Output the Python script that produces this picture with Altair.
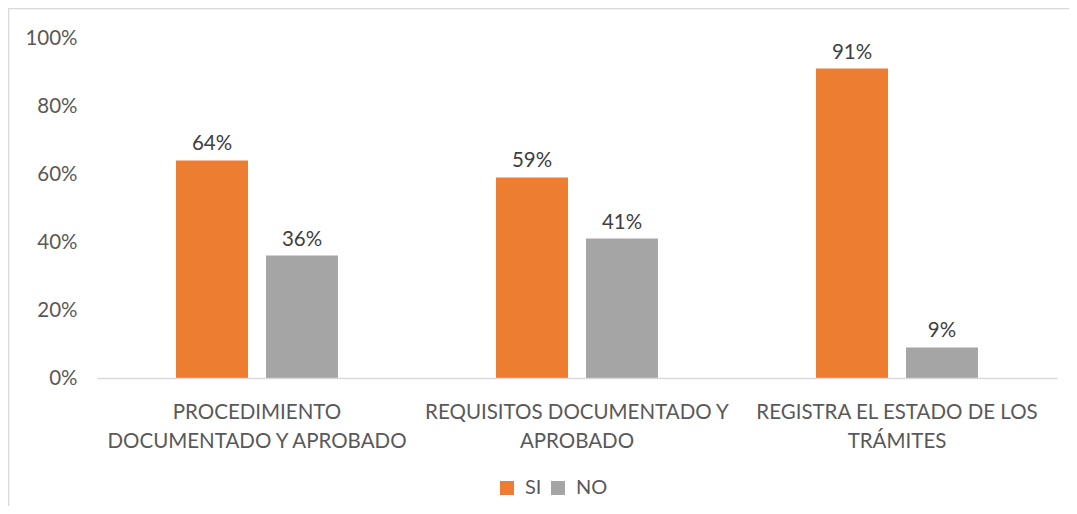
import altair as alt
import pandas as pd

categories = [
    "PROCEDIMIENTO\nDOCUMENTADO Y APROBADO",
    "REQUISITOS DOCUMENTADO Y\nAPROBADO",
    "REGISTRA EL ESTADO DE LOS\nTRÁMITES",
]
series = ["SI", "NO"]
si_values = [64, 59, 91]
no_values = [36, 41, 9]
y_ticks = [0, 20, 40, 60, 80, 100]
colors = ["#ED7D31", "#A5A5A5"]

rows = []
for c, s, n in zip(categories, si_values, no_values):
    rows.append({"cat": c, "serie": "SI", "val": s})
    rows.append({"cat": c, "serie": "NO", "val": n})
df = pd.DataFrame(rows)
df["label"] = df["val"].astype(str) + "%"

FONT = "Lato"
FS = 20.5

x = alt.X(
    "cat:N",
    sort=categories,
    scale=alt.Scale(paddingInner=0, paddingOuter=0),
    axis=alt.Axis(
        title=None,
        labelAngle=0,
        labelExpr="split(datum.label, '\\n')",
        labelFont=FONT,
        labelFontSize=FS,
        labelColor="#595959",
        labelLineHeight=29,
        labelPadding=24,
        ticks=False,
        domainColor="#D9D9D9",
        domainWidth=1.5,
        labelLimit=400,
        zindex=1,
    ),
)
xoff = alt.XOffset(
    "serie:N",
    sort=series,
    scale=alt.Scale(paddingInner=0.2, paddingOuter=0.878),
)
y = alt.Y(
    "val:Q",
    scale=alt.Scale(domain=[0, 100]),
    axis=alt.Axis(
        title=None,
        values=y_ticks,
        labelExpr="datum.value + '%'",
        labelFont=FONT,
        labelFontSize=FS,
        labelColor="#595959",
        labelPadding=20,
        ticks=False,
        domain=False,
        grid=False,
        zindex=1,
    ),
)

bars = alt.Chart(df).mark_bar().encode(
    x=x,
    xOffset=xoff,
    y=y,
    color=alt.Color(
        "serie:N",
        sort=series,
        scale=alt.Scale(domain=series, range=colors),
        legend=alt.Legend(
            title=None,
            orient="none",
            direction="horizontal",
            legendX=400,
            legendY=440,
            symbolType="square",
            symbolSize=196,
            symbolStrokeWidth=0,
            labelFont=FONT,
            labelFontSize=20,
            labelColor="#595959",
            labelOffset=8,
            columnPadding=6,
        ),
    ),
)

text = alt.Chart(df).mark_text(
    baseline="alphabetic", dy=-10, font=FONT, fontSize=FS, color="#404040"
).encode(x=x, xOffset=xoff, y=y, text="label:N")

frame_df = pd.DataFrame({"f": [0]})
frame = alt.Chart(frame_df).mark_rect(
    fillOpacity=0, stroke="#D9D9D9", strokeWidth=1.5
).encode(
    x=alt.value(-88.5), x2=alt.value(1000), y=alt.value(-29.5), y2=alt.value(500)
)

chart = (
    alt.layer(frame, bars, text)
    .properties(
        width=960,
        height=340,
        autosize=alt.AutoSizeParams(type="none"),
        padding={"left": 89, "top": 30, "right": 12, "bottom": 128},
        background="white",
    )
    .configure_view(stroke=None)
)

chart.save("out.html", embed_options={"renderer": "svg", "actions": False})
